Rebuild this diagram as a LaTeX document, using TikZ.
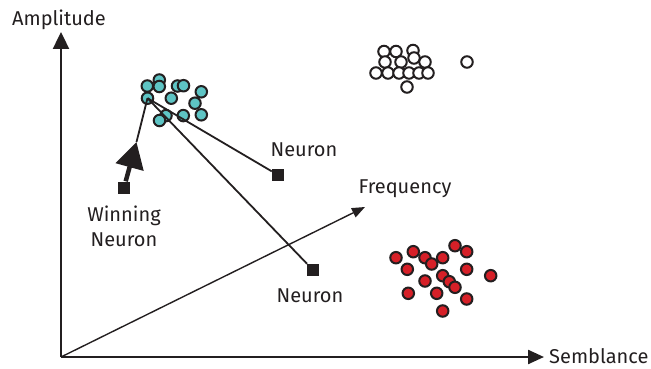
\documentclass[tikz,border=0pt]{standalone}
\usepackage{fontspec}
\setmainfont{Fira Sans}
\usetikzlibrary{arrows.meta}
\definecolor{tealc}{RGB}{94,196,196}
\definecolor{redc}{RGB}{214,32,40}
\definecolor{ink}{RGB}{35,31,32}
\begin{document}
\begin{tikzpicture}[x=1pt,y=-1pt,
  dot/.style={circle,draw=ink,line width=2pt,minimum size=11.5pt,inner sep=0pt},
  tdot/.style={dot,fill=tealc},
  rdot/.style={dot,fill=redc},
  wdot/.style={dot,fill=white},
  sq/.style={rectangle,fill=ink,minimum size=12pt,inner sep=0pt},
  lbl/.style={font=\fontsize{20}{25}\selectfont,text=ink,inner sep=0pt,align=center},
  axis/.style={draw=ink,line width=2.4pt},
  conn/.style={draw=ink,line width=1.8pt}]
\useasboundingbox (0,0) rectangle (651,369);

% axes
\coordinate (O) at (61,357);
\coordinate (ytip) at (61,32);
\coordinate (xtip) at (544,357);
\coordinate (ftip) at (365,207);
\draw[axis,-{Triangle[length=17pt,width=16pt]}] (O) -- (ytip);
\draw[axis,-{Triangle[length=16pt,width=14pt]}] (O) -- (xtip);
\draw[draw=ink,line width=1.4pt,-{Triangle[length=13pt,width=10pt]}] (O) -- (ftip);
\node[lbl] (amp) at (59,20) {Amplitude};
\node[lbl,anchor=west] (sem) at (549,356) {Semblance};
\node[lbl] (freq) at (405,189) {Frequency};

% white cluster
\foreach \i/\x/\y in {1/384/51.5,2/396/51.5,3/413/50.5,4/385/62,5/401/62,6/414/58,7/425/62,
  8/376/73,9/388/73,10/399/73,11/409/73,12/419/73,13/428/73,14/407/87,15/467/62}
  \node[wdot] (w\i) at (\x,\y) {};

% red cluster
\foreach \i/\x/\y in {1/396/257.7,2/413.3/251.7,3/425/257.7,4/431.7/264,5/442.7/257.7,
  6/455/245.7,7/466.7/251.7,8/407.3/269.3,9/425/281,10/442.7/275.7,11/449.3/281.7,
  12/455/287.3,13/466.7/269.3,14/490.7/275.7,15/408.3/293.3,16/436.7/293.3,
  17/466.7/299,18/442.7/311}
  \node[rdot] (r\i) at (\x,\y) {};

% teal cluster
\foreach \i/\x/\y in {1/147.3/86,2/159.3/80,3/159.3/86.5,4/177.5/86,5/183.5/85.7,
  6/171.3/98.2,7/201.3/91.8,8/195/103.2,9/201.3/114.8,10/166/115.6,11/159.5/120.5,
  12/183.3/115.6}
  \node[tdot] (t\i) at (\x,\y) {};
\node[tdot] (hub) at (147.5,98.2) {};

% neurons
\node[sq] (n1) at (278,175) {};
\node[sq] (n2) at (313,270) {};
\node[sq] (win) at (124,187.5) {};
\coordinate (wt) at (136.5,142);

\draw[conn] (hub.center) -- (n1);
\draw[conn] (hub.center) -- (n2);
\draw[conn] (hub.center) -- (wt);
\draw[draw=ink,line width=4.5pt,-{Triangle[length=26pt,width=28pt]}] (win) -- (wt);

\node[lbl] (ln1) at (304,150) {Neuron};
\node[lbl] (ln2) at (310,296) {Neuron};
\node[lbl] (lwin) at (124,226) {Winning\\Neuron};
\end{tikzpicture}
\end{document}
